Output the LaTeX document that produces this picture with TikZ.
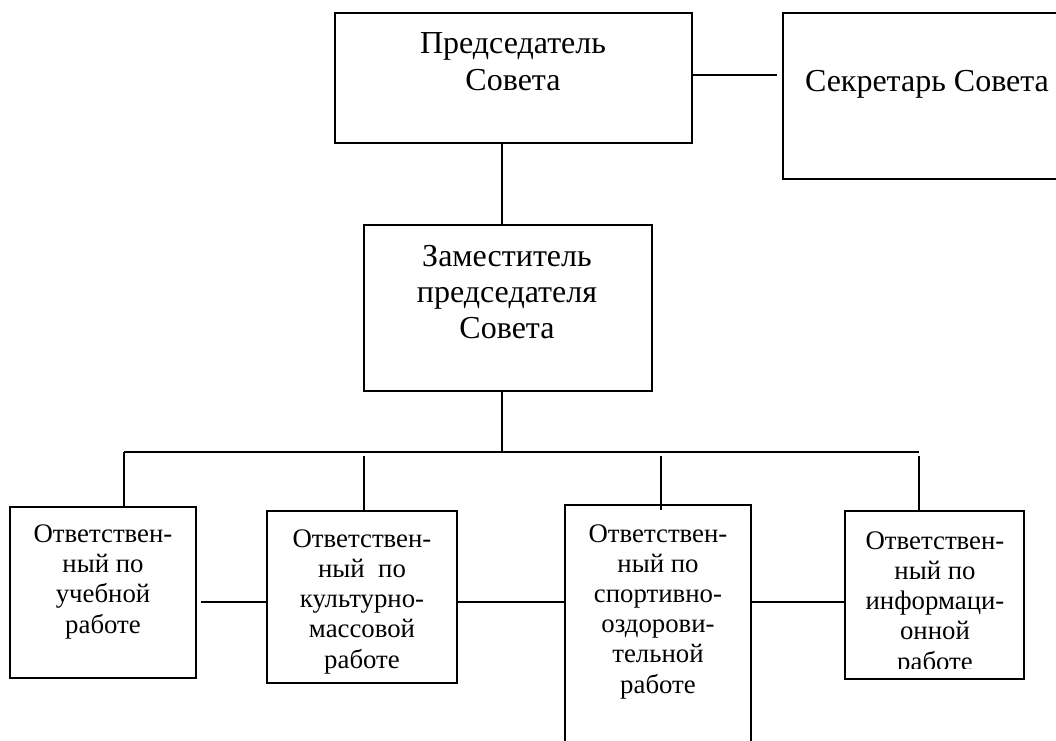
\documentclass[tikz,border=0pt]{standalone}
\usepackage{fontspec}
\setmainfont{Liberation Serif}
\usetikzlibrary{fit}
\begin{document}
\begin{tikzpicture}[x=0.5pt,y=-0.5pt,
  box/.style={draw, line width=1pt, inner sep=0pt},
  big/.style={font=\fontsize{16}{18.5}\selectfont, align=center, inner sep=0pt, anchor=base},
  small/.style={font=\fontsize{13.4}{15.1}\selectfont, align=center, inner sep=0pt, anchor=base},
  link/.style={line width=1pt}]
\useasboundingbox (0,0) rectangle (1056,740);
% top level
\node[box, fit={(335,13) (692,143)}] (chair) {};
\node[big] (chairT) at (513,90) {Председатель\\Совета};
\node[box, fit={(783,13) (1070,179)}] (sec) {};
\node[big] (secT) at (927,91) {Секретарь Совета};
\node[box, fit={(364,225) (652,391)}] (dep) {};
\node[big, font=\fontsize{16}{18}\selectfont] (depT) at (507,338) {Заместитель\\председателя\\Совета};
% bottom level
\node[box, fit={(10,507) (196,678)}] (b1) {};
\node[small] (b1T) at (103,633) {Ответствен-\\ный по\\учебной\\работе};
\node[box, fit={(267,511) (457,683)}] (b2) {};
\node[small] (b2T) at (362,668) {Ответствен-\\ный~~по\\культурно-\\массовой\\работе};
\node[box, fit={(565,505) (751,770)}] (b3) {};
\node[small] (b3T) at (658,693) {Ответствен-\\ный по\\спортивно-\\оздорови-\\тельной\\работе};
\node[box, fit={(845,511) (1024,679)}] (b4) {};
\begin{scope}
\clip (845,511) rectangle (1024,668);
\node[small] (b4T) at (935,670) {Ответствен-\\ный по\\информаци-\\онной\\работе};
\end{scope}
% coordinates
\coordinate (v0) at (502,452);
\coordinate (v1) at (124,452);
\coordinate (v2) at (364,456);
\coordinate (v3) at (661,456);
\coordinate (v4) at (919,456);
\coordinate (h1) at (0,602);
\coordinate (hs) at (0,75);
% connectors
\draw[link] (chair.east |- hs) -- ([xshift=-2.5pt]sec.west |- hs);
\draw[link] (chair.south -| v0) -- (dep.north -| v0);
\draw[link] (dep.south -| v0) -- (v0);
\draw[link] (v1) -- (v0 -| v4);
\draw[link] (v1) -- (b1.north -| v1);
\draw[link] (v2) -- (b2.north -| v2);
\draw[link] (v3) -- ([yshift=-3pt]b3.north -| v3);
\draw[link] (v4) -- (b4.north -| v4);
\draw[link] ([xshift=2pt]b1.east |- h1) -- (b2.west |- h1);
\draw[link] (b2.east |- h1) -- (b3.west |- h1);
\draw[link] (b3.east |- h1) -- (b4.west |- h1);
\end{tikzpicture}
\end{document}
